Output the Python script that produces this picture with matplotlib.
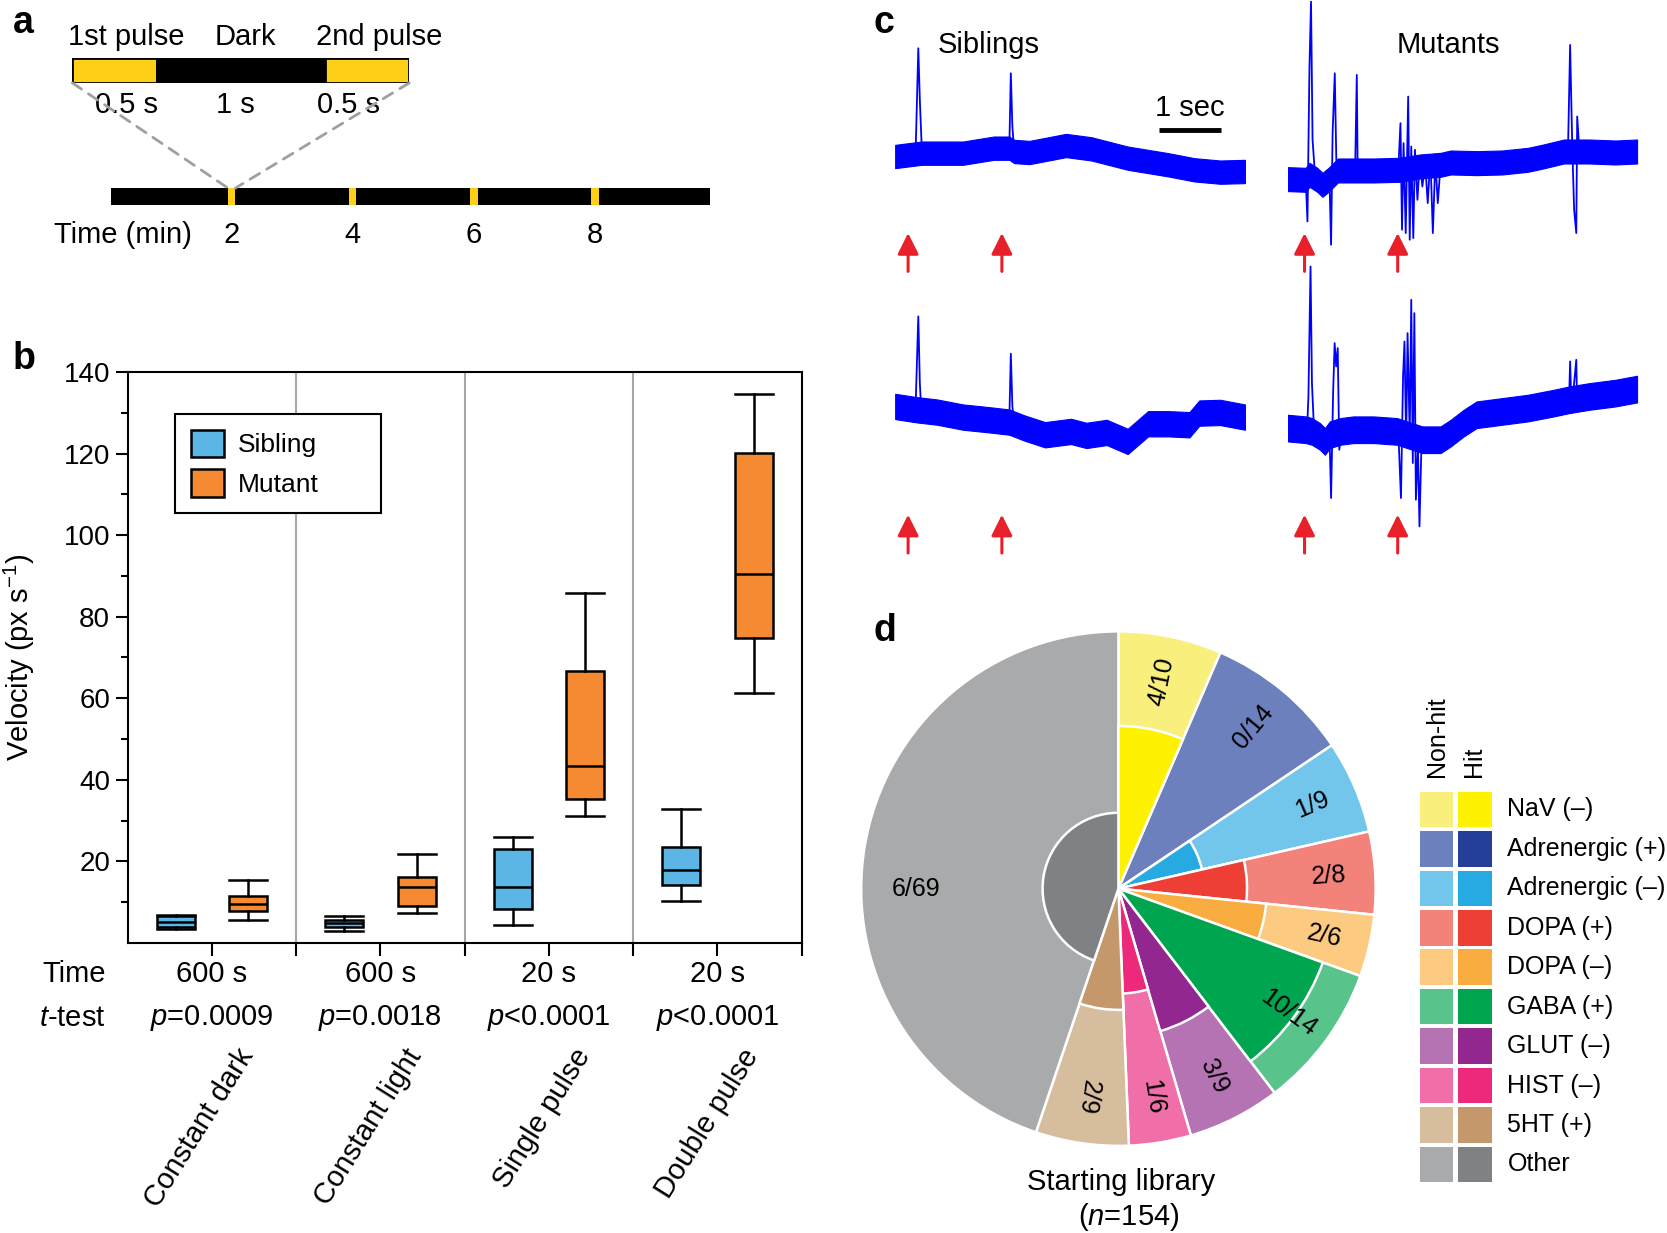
import numpy as np
import matplotlib
matplotlib.use("Agg")
import matplotlib.pyplot as plt
from matplotlib.patches import Patch, Wedge, ConnectionPatch

plt.rcParams['font.family'] = ['Liberation Sans', 'DejaVu Sans']
plt.rcParams['mathtext.fontset'] = 'custom'
plt.rcParams['mathtext.rm'] = 'Liberation Sans'
plt.rcParams['mathtext.it'] = 'Liberation Sans:italic'
plt.rcParams['mathtext.bf'] = 'Liberation Sans:bold'

# ---------------- data ----------------
# panel a: stimulus protocol
pulse_names = ["1st pulse", "Dark", "2nd pulse"]
segment_start_s = [0.0, 0.5, 1.5]
segment_len_s = [0.5, 1.0, 0.5]
segment_len_labels = ["0.5 s", "1 s", "0.5 s"]
protocol_len_min = 9.9
pulse_times_min = [2, 4, 6, 8]

# panel b: velocity box plots
conditions = ["Constant dark", "Constant light", "Single pulse", "Double pulse"]
durations = ["600 s", "600 s", "20 s", "20 s"]
p_values = [r"$\it{p}$=0.0009", r"$\it{p}$=0.0018", r"$\it{p}$<0.0001", r"$\it{p}$<0.0001"]
sib_low = [3.5, 2.9, 4.3, 10.2]
sib_q1 = [3.8, 3.9, 8.3, 14.3]
sib_med = [5.1, 4.8, 13.7, 17.8]
sib_q3 = [6.5, 5.7, 23.0, 23.6]
sib_high = [6.8, 6.7, 26.0, 32.9]
mut_low = [5.5, 7.3, 31.1, 61.3]
mut_q1 = [7.8, 9.0, 35.2, 74.8]
mut_med = [9.6, 13.7, 43.4, 90.4]
mut_q3 = [11.4, 16.1, 66.6, 120.2]
mut_high = [15.5, 21.8, 85.9, 134.7]

# panel c: recordings (time in s, amplitude in a.u.)
TRACE_LEN = 5.67
sib_pulses = [0.21, 1.73]
mut_pulses = [0.27, 1.78]

sib_top_t = [0, 0.43, 1.10, 1.60, 1.85, 1.93, 2.18, 2.77, 3.18, 3.77, 4.10, 4.43, 4.85, 5.27, 5.67]
sib_top_a = [0, 1.0, 1.0, 2.5, 2.5, 1.5, 1.2, 3.3, 2.3, -0.5, -1.5, -2.5, -4.0, -4.7, -4.5]
sib_top_spikes = [
    ([0.33, 0.375, 0.40, 0.43, 0.48], [0, 32.5, 17, 3, 0.8]),
    ([1.85, 1.875, 1.90, 1.93], [2, 25, 9, 1.5]),
]

sib_bot_t = [0, 0.35, 0.68, 1.10, 1.52, 1.85, 2.10, 2.43, 2.85, 3.10, 3.43, 3.77, 4.10, 4.43, 4.77, 4.93, 5.27, 5.67]
sib_bot_a = [0, -1.0, -1.7, -3.2, -4.0, -4.7, -6.5, -8.5, -7.5, -8.7, -7.8, -10.5, -5.2, -5.2, -5.5, -2.0, -1.8, -3.2]
sib_bot_spikes = [
    ([0.33, 0.375, 0.40, 0.43, 0.48], [-0.8, 27, 7, -3.5, -2.0]),
    ([1.85, 1.875, 1.90, 1.93], [-4.5, 15.8, 0, -5]),
]

mut_top_t = [0, 0.29, 0.35, 0.475, 0.56, 0.66, 0.81, 1.06, 1.39, 1.81, 2.14, 2.475, 2.64, 3.06,
             3.475, 3.89, 4.14, 4.475, 4.89, 5.31, 5.66]
mut_top_a = [-6.8, -7.0, -5.5, -7.0, -8.5, -7.0, -4.2, -4.2, -4.2, -4.0, -3.0, -2.5, -1.8, -2.0,
             -1.8, -1.0, 0, 1.5, 1.5, 1.2, 1.5]
mut_top_spikes = [
    ([0.29, 0.317, 0.35, 0.375, 0.40, 0.43], [-7, -19.5, 27, 46.5, 5, -3]),
    ([0.675, 0.70, 0.725, 0.76, 0.785, 0.82], [-7.5, -26.5, 7, 25, -1, -4.2]),
    ([1.09, 1.117, 1.133, 1.16], [-4.2, 24.5, -7.5, -4.2]),
    ([1.79, 1.825, 1.85, 1.875, 1.91, 1.95, 1.975, 2.0, 2.033, 2.06, 2.1, 2.14, 2.18, 2.225,
      2.267, 2.31, 2.35, 2.39, 2.43, 2.475],
     [-4, 10, -22, 4, -23, 18, -25, 3, -24.5, 2, -13, -1, -9, -2, -14, 0, -23, -1, -14, -2.5]),
    ([4.54, 4.575, 4.61, 4.64, 4.675, 4.69, 4.725], [1.2, 33.5, 3, -16, -23, 12, 1.5]),
]

mut_bot_t = [0, 0.29, 0.39, 0.52, 0.6, 0.68, 0.85, 1.06, 1.39, 1.77, 2.18, 2.475, 2.64, 2.85,
             3.06, 3.475, 3.89, 4.31, 4.56, 4.89, 5.31, 5.66]
mut_bot_a = [-6.5, -7, -7.5, -9, -10.5, -8.5, -7.5, -7, -7, -7.5, -10, -10, -8, -5,
             -2.5, -1.5, -0.5, 1, 2, 3, 4, 5.2]
mut_bot_spikes = [
    ([0.31, 0.333, 0.367, 0.39, 0.425], [-7.5, 3, 42, 7, -7.5]),
    ([0.675, 0.70, 0.733, 0.758, 0.783, 0.808, 0.833, 0.867], [-9, -27.5, 4, 19, 12, 17.5, -13, -8]),
    ([1.79, 1.833, 1.867, 1.89, 1.917, 1.94, 1.975, 2.0, 2.025, 2.05, 2.075, 2.108, 2.133, 2.167],
     [-7.5, -27.5, 9, 19.5, -11, 22, -9, 32, -17, 28, -28, -12, -36, -10]),
    ([4.56, 4.575, 4.6, 4.64, 4.675, 4.69, 4.725], [3, 13.5, -2, 7, 14, -1, 3]),
]

# panel d: starting library
classes = ["NaV (\u2013)", "Adrenergic (+)", "Adrenergic (\u2013)", "DOPA (+)", "DOPA (\u2013)",
           "GABA (+)", "GLUT (\u2013)", "HIST (\u2013)", "5HT (+)", "Other"]
n_compounds = [10, 14, 9, 8, 6, 14, 9, 6, 9, 69]
n_hits = [4, 0, 1, 2, 2, 10, 3, 1, 2, 6]
nonhit_colors = ["#f9ef7c", "#6d80be", "#72c6ec", "#f2827a", "#fdca82",
                 "#58c48c", "#b673b4", "#f06fa8", "#d6bd9d", "#a9aaac"]
hit_colors = ["#fff200", "#253f99", "#27a9e1", "#ee3f37", "#f9ac40",
              "#00a550", "#92278f", "#ec297b", "#c4986a", "#808184"]

# ---------------- styles ----------------
YELLOW = "#fdd017"
SIB_COLOR = "#5bb5e5"
MUT_COLOR = "#f58a32"
TRACE_BLUE = "#0000ff"
ARROW_RED = "#e8202a"
FS = 21

W_REF, H_REF = 1568.0, 1160.0


def frame(x0, y0, x1, y1):
    return [x0 / W_REF, 1 - y1 / H_REF, (x1 - x0) / W_REF, (y1 - y0) / H_REF]


fig = plt.figure(figsize=(16.67, 12.33), dpi=100)

for letter, (lx, ly) in zip("abcd", [(12, 22), (12, 338), (822, 22), (822, 594)]):
    fig.text(lx / W_REF, 1 - ly / H_REF, letter, fontsize=27, fontweight='bold',
             ha='left', va='center')

# ---------------- panel a ----------------
ax_zoom = fig.add_axes(frame(68, 55, 385, 78))
ax_zoom.barh(0, segment_len_s, left=segment_start_s, height=1,
             color=[YELLOW, "black", YELLOW], edgecolor="black", linewidth=2)
ax_zoom.set_xlim(0, 2)
ax_zoom.set_ylim(-0.5, 0.5)
ax_zoom.axis('off')
name_x = [0.32, 1.03, 1.82]
len_x = [0.32, 0.97, 1.64]
tz = ax_zoom.get_xaxis_transform()
for x, s in zip(name_x, pulse_names):
    ax_zoom.text(x, 1.87, s, transform=tz, ha='center', va='center', fontsize=FS)
for x, s in zip(len_x, segment_len_labels):
    ax_zoom.text(x, -0.91, s, transform=tz, ha='center', va='center', fontsize=FS)

ax_time = fig.add_axes(frame(104, 177, 668, 193))
ax_time.barh(0, protocol_len_min, left=0, height=1, color="black")
ax_time.bar(pulse_times_min, 1, width=0.12, bottom=-0.5, color=YELLOW)
ax_time.set_xlim(0, protocol_len_min)
ax_time.set_ylim(-0.5, 0.5)
ax_time.axis('off')
tt = ax_time.get_xaxis_transform()
for m in pulse_times_min:
    ax_time.text(m, -1.75, str(m), transform=tt, ha='center', va='center', fontsize=FS)
ax_time.text(1.35, -1.75, "Time (min)", transform=tt, ha='right', va='center', fontsize=FS)

for xa, xb in [(0, pulse_times_min[0] - 0.06), (2, pulse_times_min[0] + 0.06)]:
    con = ConnectionPatch(xyA=(xa, -0.5), coordsA=ax_zoom.transData,
                          xyB=(xb, 0.5), coordsB=ax_time.transData,
                          color="#a0a0a0", lw=2, linestyle=(0, (4, 3)))
    fig.add_artist(con)

# ---------------- panel b ----------------
ax_b = fig.add_axes(frame(120, 350, 754, 887))
groups = np.arange(len(conditions))
offset, bw = 0.215, 0.225


def make_stats(low, q1, med, q3, high):
    return [dict(whislo=a, q1=b, med=c, q3=d, whishi=e)
            for a, b, c, d, e in zip(low, q1, med, q3, high)]


line_kw = dict(color="black", linewidth=1.8)
for stats, pos, col in [(make_stats(sib_low, sib_q1, sib_med, sib_q3, sib_high), groups - offset, SIB_COLOR),
                        (make_stats(mut_low, mut_q1, mut_med, mut_q3, mut_high), groups + offset, MUT_COLOR)]:
    ax_b.bxp(stats, positions=pos, widths=bw, capwidths=bw, patch_artist=True, showfliers=False,
             boxprops=dict(facecolor=col, edgecolor="black", linewidth=1.8),
             medianprops=line_kw, whiskerprops=line_kw, capprops=line_kw, manage_ticks=False)

for sep in groups[:-1] + 0.5:
    ax_b.axvline(sep, color="#a6a6a6", lw=1.5, zorder=0)

ax_b.set_xlim(-0.5, 3.5)
ax_b.set_ylim(0, 140)
ax_b.set_xticks(np.arange(0, 3.6, 0.5))
ax_b.set_xticklabels([])
ax_b.set_yticks(np.arange(20, 141, 20))
ax_b.set_yticks(np.arange(10, 140, 20), minor=True)
ax_b.tick_params(axis='both', which='major', direction='out', length=9, width=1.5, labelsize=20)
ax_b.tick_params(axis='y', which='minor', direction='out', length=5, width=1.5)
for sp in ax_b.spines.values():
    sp.set_linewidth(1.5)
ax_b.set_ylabel(r"Velocity (px s$^{\mathrm{-1}}$)", fontsize=FS)
ax_b.yaxis.set_label_coords(-0.135, 0.5)

tb = ax_b.get_xaxis_transform()
ax_b.text(-0.032, -0.054, "Time", transform=ax_b.transAxes, ha='right', va='center', fontsize=FS)
ax_b.text(-0.032, -0.132, r"$\it{t}$-test", transform=ax_b.transAxes, ha='right', va='center', fontsize=FS)
for g, dur, pv, cond in zip(groups, durations, p_values, conditions):
    ax_b.text(g, -0.054, dur, transform=tb, ha='center', va='center', fontsize=FS)
    ax_b.text(g, -0.132, pv, transform=tb, ha='center', va='center', fontsize=FS)
    ax_b.text(g + 0.21, -0.19, cond, transform=tb, ha='right', va='center', fontsize=FS,
              rotation=58, rotation_mode='anchor')

handles = [Patch(facecolor=SIB_COLOR, edgecolor="black", linewidth=1.8, label="Sibling"),
           Patch(facecolor=MUT_COLOR, edgecolor="black", linewidth=1.8, label="Mutant")]
leg = ax_b.legend(handles=handles, loc='upper left', bbox_to_anchor=(0.071, 0.75, 0.305, 0.177),
                  mode='expand', fancybox=False, edgecolor="black", framealpha=1, fontsize=19,
                  handlelength=1.25, handleheight=1.25, labelspacing=0.45, borderpad=0.6,
                  handletextpad=0.5, borderaxespad=0)
leg.get_frame().set_linewidth(1.5)
leg.set_zorder(5)

# ---------------- panel c ----------------
def trace_axes(x0, y0, x1, y1, ylim):
    ax = fig.add_axes(frame(x0, y0, x1, y1))
    ax.set_xlim(0, TRACE_LEN)
    ax.set_ylim(*ylim)
    ax.axis('off')
    return ax


def draw_trace(ax, t, a, hw, spikes):
    t = np.asarray(t)
    a = np.asarray(a)
    ax.fill_between(t, a - hw, a + hw, color=TRACE_BLUE, lw=0.8, edgecolor=TRACE_BLUE)
    for st, sa in spikes:
        ax.plot(st, sa, color=TRACE_BLUE, lw=1.3, clip_on=False)


def draw_arrows(ax, times, head, tail):
    for p in times:
        ax.annotate("", xy=(p, head), xytext=(p, tail),
                    arrowprops=dict(arrowstyle='-|>', color=ARROW_RED, lw=2.2,
                                    mutation_scale=32, shrinkA=0, shrinkB=0))


top_ylim = (-36.0, 47.0)
bot_ylim = (-47.1, 38.4)
ax_st = trace_axes(842, 0, 1171, 260, top_ylim)
ax_mt = trace_axes(1211.4, 0, 1540.4, 260, top_ylim)
ax_sb = trace_axes(842, 262, 1171, 530, bot_ylim)
ax_mb = trace_axes(1211.4, 262, 1540.4, 530, bot_ylim)

draw_trace(ax_st, sib_top_t, sib_top_a, 3.5, sib_top_spikes)
draw_trace(ax_mt, mut_top_t, mut_top_a, 3.6, mut_top_spikes)
draw_trace(ax_sb, sib_bot_t, sib_bot_a, 3.8, sib_bot_spikes)
draw_trace(ax_mb, mut_bot_t, mut_bot_a, 4.0, mut_bot_spikes)

draw_arrows(ax_st, sib_pulses, -23, -34.5)
draw_arrows(ax_mt, mut_pulses, -23, -34.5)
draw_arrows(ax_sb, sib_pulses, -32.5, -44)
draw_arrows(ax_mb, mut_pulses, -32.5, -44)

ax_st.text(1.52, 33.6, "Siblings", ha='center', va='center', fontsize=FS)
ax_mt.text(2.6, 33.6, "Mutants", ha='center', va='center', fontsize=FS)
ax_st.plot([4.28, 5.28], [8.1, 8.1], color="black", lw=3.5, solid_capstyle='butt')
ax_st.text(4.78, 14.5, "1 sec", ha='center', va='center', fontsize=FS)

# ---------------- panel d ----------------
ax_d = fig.add_axes(frame(810, 594, 1294, 1078))
wedges, _ = ax_d.pie(n_compounds, colors=nonhit_colors, startangle=90, counterclock=False,
                     radius=1, wedgeprops=dict(edgecolor="white", linewidth=1.8))
for w, h, n, c in zip(wedges, n_hits, n_compounds, hit_colors):
    if h > 0:
        ax_d.add_patch(Wedge((0, 0), np.sqrt(h / n), w.theta1, w.theta2,
                             facecolor=c, edgecolor="white", linewidth=1.8))
for i, (w, h, n) in enumerate(zip(wedges, n_hits, n_compounds)):
    mid = 0.5 * (w.theta1 + w.theta2)
    if classes[i] == "Other":
        ax_d.text(-0.785, 0, f"{h}/{n}", ha='center', va='center', fontsize=18)
    else:
        r = 0.82
        ax_d.text(r * np.cos(np.radians(mid)), r * np.sin(np.radians(mid)), f"{h}/{n}",
                  ha='center', va='center', fontsize=18, rotation=mid, rotation_mode='anchor')
ax_d.set_xlim(-1, 1)
ax_d.set_ylim(-1, 1)
ax_d.text(0.01, -1.14, "Starting library", ha='center', va='center', fontsize=FS, clip_on=False)
ax_d.text(0.04, -1.277, r"($\it{n}$=154)", ha='center', va='center', fontsize=FS, clip_on=False)

ax_leg = fig.add_axes(frame(1334.6, 743, 1404, 1114))
rows = np.arange(len(classes)) + 0.5
ax_leg.barh(rows, 0.9, left=0.03, height=0.9, color=nonhit_colors)
ax_leg.barh(rows, 0.9, left=1.07, height=0.9, color=hit_colors)
ax_leg.set_xlim(0, 2)
ax_leg.set_ylim(len(classes), 0)
ax_leg.axis('off')
for r_, name in zip(rows, classes):
    ax_leg.text(2.4, r_, name, ha='left', va='center', fontsize=18, clip_on=False)
ax_leg.text(0.5, -0.33, "Non-hit", rotation=90, ha='center', va='bottom', fontsize=18)
ax_leg.text(1.5, -0.33, "Hit", rotation=90, ha='center', va='bottom', fontsize=18)

fig.savefig("out.png", dpi=100)
